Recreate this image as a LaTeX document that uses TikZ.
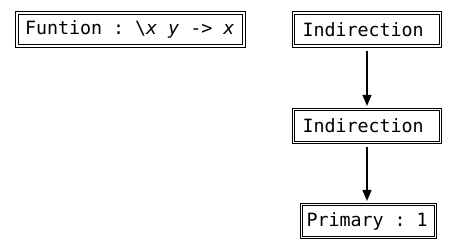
\documentclass[tikz,border=0pt]{standalone}
\usepackage{fontspec}
\setmonofont{DejaVu Sans Mono}
\usetikzlibrary{arrows.meta}
% left-aligned label of fixed width inside a cell
\newcommand\celllabel[2]{\makebox[#1][l]{#2}}
\begin{document}
\begin{tikzpicture}[x=1pt,y=-1pt,
  cell/.style={draw, line width=1.1pt, double, double distance=1.6pt,
    inner ysep=0pt, inner xsep=8pt, minimum height=33pt,
    font=\ttfamily\fontsize{18.3}{21}\selectfont},
  link/.style={-{Triangle[length=11pt,width=9pt]}, line width=1.1pt,
    shorten >=3pt, shorten <=4pt}]
\useasboundingbox (0,0) rectangle (458,251);
\node[cell] (fun) at (130.5,29.5) {\celllabel{211pt}{Funtion : \textbackslash{\itshape x} {\itshape y} -> {\itshape x}}};
\node[cell, inner xsep=9pt] (ind1) at (367,29.5) {\celllabel{129pt}{Indirection}};
\node[cell, inner xsep=9pt] (ind2) at (367,126) {\celllabel{129pt}{Indirection}};
\node[cell, inner xsep=5pt] (prim) at (368.5,221) {\celllabel{124pt}{Primary : 1}};
\draw[link] (ind1.south) -- (ind2.north);
\draw[link] (ind2.south) -- (ind2.south |- prim.north);
\end{tikzpicture}
\end{document}
